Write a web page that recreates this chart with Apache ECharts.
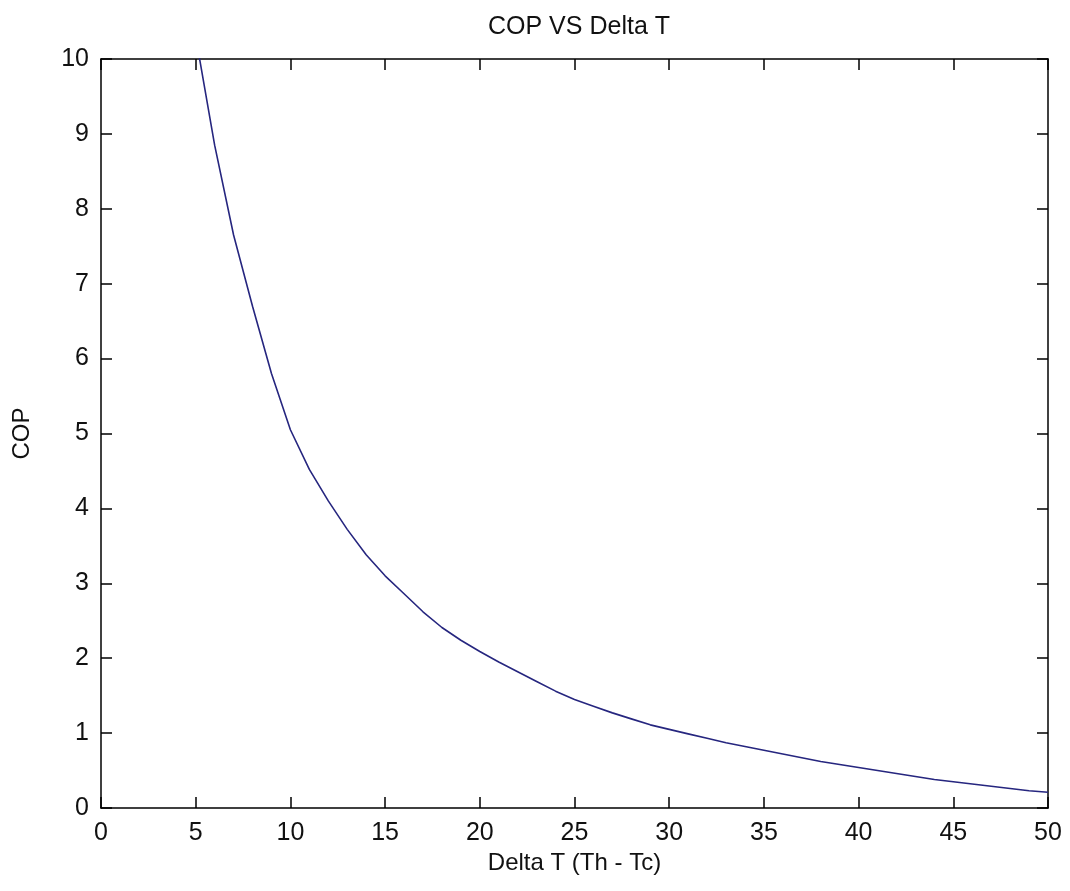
<!DOCTYPE html>
<html>
<head>
<meta charset="utf-8">
<script src="https://cdn.jsdelivr.net/npm/echarts@6/dist/echarts.min.js"></script>
<style>
html,body{margin:0;padding:0;background:#fff;}
#chart{width:1070px;height:891px;}
</style>
</head>
<body>
<div id="chart"></div>
<script>
const deltaT = [5,6,7,8,9,10,11,12,13,14,15,16,17,18,19,20,21,22,23,24,25,26,27,28,29,30,31,32,33,34,35,36,37,38,39,40,41,42,43,44,45,46,47,48,49,50];
const cop = [10.3,8.85,7.65,6.7,5.8,5.05,4.52,4.1,3.72,3.38,3.1,2.86,2.62,2.41,2.24,2.09,1.95,1.82,1.69,1.56,1.45,1.36,1.27,1.19,1.11,1.05,0.99,0.93,0.87,0.82,0.77,0.72,0.67,0.62,0.58,0.54,0.5,0.46,0.42,0.38,0.35,0.32,0.29,0.26,0.23,0.21];
const xTicks = [0,5,10,15,20,25,30,35,40,45,50];
const yTicks = [0,1,2,3,4,5,6,7,8,9,10];

const font = 'Liberation Sans, Arial, sans-serif';
const chart = echarts.init(document.getElementById('chart'), null, {renderer:'canvas'});
const axisLine = {show:true, onZero:false, lineStyle:{color:'#000', width:1.5}};
const tick = {show:true, inside:true, length:11, lineStyle:{color:'#000', width:1.5}};
chart.setOption({
  backgroundColor:'#fff',
  animation:false,
  title:{
    text:'COP VS Delta T', left:574, top:10, textAlign:'center',
    textStyle:{fontFamily:font, fontSize:25, fontWeight:'normal', color:'#111'}
  },
  grid:{left:101, right:22, top:59, bottom:83, containLabel:false, outerBoundsMode:'none'},
  xAxis:[{
    type:'value', min:0, max:50, interval:5,
    name:'Delta T (Th - Tc)', nameLocation:'middle', nameGap:38,
    nameTextStyle:{fontFamily:font, fontSize:24, color:'#111'},
    axisLine:axisLine, axisTick:tick, splitLine:{show:false},
    axisLabel:{fontFamily:font, fontSize:25, color:'#111', margin:13,
      formatter: v => xTicks.includes(v) ? String(v) : ''}
  },{
    type:'value', position:'top', min:0, max:50, interval:5,
    axisLine:axisLine, axisTick:tick, splitLine:{show:false}, axisLabel:{show:false}
  }],
  yAxis:[{
    type:'value', min:0, max:10, interval:1,
    name:'COP', nameLocation:'middle', nameGap:67, nameRotate:90,
    nameTextStyle:{fontFamily:font, fontSize:24, color:'#111'},
    axisLine:axisLine, axisTick:tick, splitLine:{show:false},
    axisLabel:{fontFamily:font, fontSize:25, color:'#111', margin:12,
      formatter: v => yTicks.includes(v) ? String(v) : ''}
  },{
    type:'value', position:'right', min:0, max:10, interval:1,
    axisLine:axisLine, axisTick:tick, splitLine:{show:false}, axisLabel:{show:false}
  }],
  series:[{
    type:'line', xAxisIndex:0, yAxisIndex:0,
    data: deltaT.map((x,i)=>[x, cop[i]]),
    showSymbol:false, smooth:false, clip:true,
    lineStyle:{color:'#26267f', width:1.6}
  }]
});
</script>
</body>
</html>
